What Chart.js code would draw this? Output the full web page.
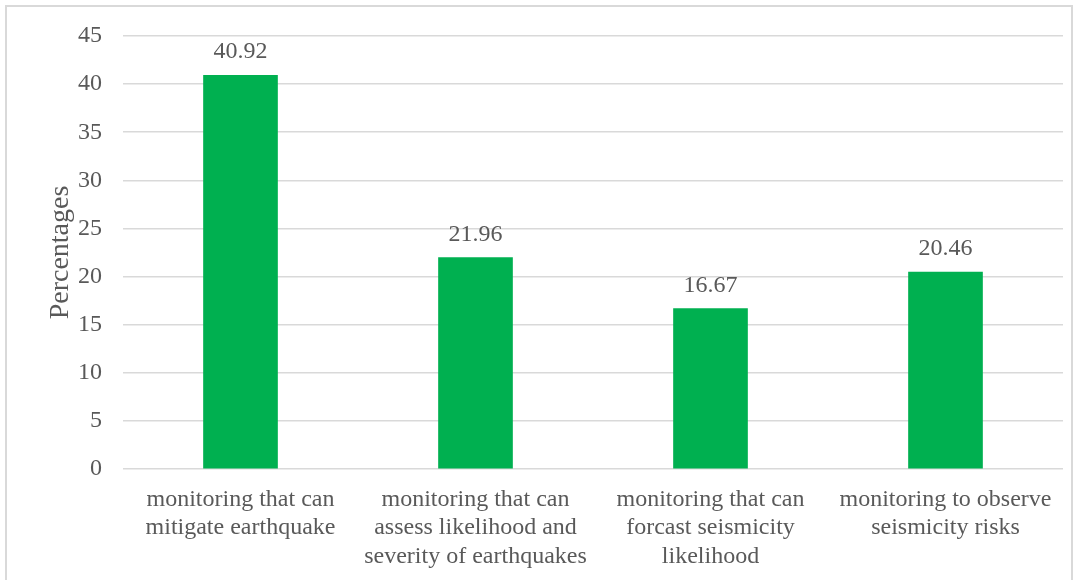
<!DOCTYPE html>
<html>
<head>
<meta charset="utf-8">
<script src="https://cdn.jsdelivr.net/npm/chart.js@4.4.0/dist/chart.umd.min.js"></script>
<style>
  html, body { margin: 0; padding: 0; background: #fff; }
  #wrap { position: relative; width: 1080px; height: 580px; }
  #frame { position: absolute; left: 5px; top: 5px; width: 1068px; height: 590px; border: 2px solid #d9d9d9; box-sizing: border-box; pointer-events: none; }
</style>
</head>
<body>
<div id="wrap">
  <canvas id="chart" width="1080" height="580"></canvas>
  <div id="frame"></div>
</div>
<script>
// --- data
const categories = [
  ["monitoring that can", "mitigate earthquake"],
  ["monitoring that can", "assess likelihood and", "severity of earthquakes"],
  ["monitoring that can", "forcast seismicity", "likelihood"],
  ["monitoring to observe", "seismicity risks"]
];
const percentages = [40.92, 21.96, 16.67, 20.46];
const yTicks = [0, 5, 10, 15, 20, 25, 30, 35, 40, 45];

const textColor = "#595959";
const fontFamily = "'Liberation Serif', 'Times New Roman', serif";

// draws the value above each bar
const valueLabels = {
  id: "valueLabels",
  afterDatasetsDraw(chart) {
    const ctx = chart.ctx;
    const meta = chart.getDatasetMeta(0);
    ctx.save();
    ctx.font = "24px " + fontFamily;
    ctx.fillStyle = textColor;
    ctx.textAlign = "center";
    ctx.textBaseline = "alphabetic";
    meta.data.forEach((bar, i) => {
      ctx.fillText(percentages[i].toFixed(2), bar.x, bar.y - 17);
    });
    ctx.restore();
  }
};

new Chart(document.getElementById("chart"), {
  type: "bar",
  data: {
    labels: categories,
    datasets: [{
      data: percentages,
      backgroundColor: "#00b050",
      borderWidth: 0,
      barThickness: 74
    }]
  },
  options: {
    responsive: false,
    animation: false,
    layout: { padding: { top: 36, right: 17, left: 44, bottom: 0 } },
    plugins: {
      legend: { display: false },
      tooltip: { enabled: false }
    },
    scales: {
      x: {
        grid: { display: false },
        border: { display: false },
        ticks: {
          color: textColor,
          font: { family: fontFamily, size: 24, lineHeight: 1.2 },
          maxRotation: 0,
          autoSkip: false,
          padding: 8
        },
        afterFit(scale) { scale.height = 111; }
      },
      y: {
        min: 0,
        max: 45,
        afterBuildTicks(scale) { scale.ticks = yTicks.map(v => ({ value: v })); },
        grid: { color: "#d9d9d9", lineWidth: 1.5, drawTicks: false },
        border: { display: false },
        ticks: {
          color: textColor,
          font: { family: fontFamily, size: 24 },
          padding: 21
        },
        title: {
          display: true,
          text: "Percentages",
          color: textColor,
          font: { family: fontFamily, size: 28 },
          padding: 0
        },
        afterFit(scale) { scale.width = 79; }
      }
    }
  },
  plugins: [valueLabels]
});
</script>
</body>
</html>
